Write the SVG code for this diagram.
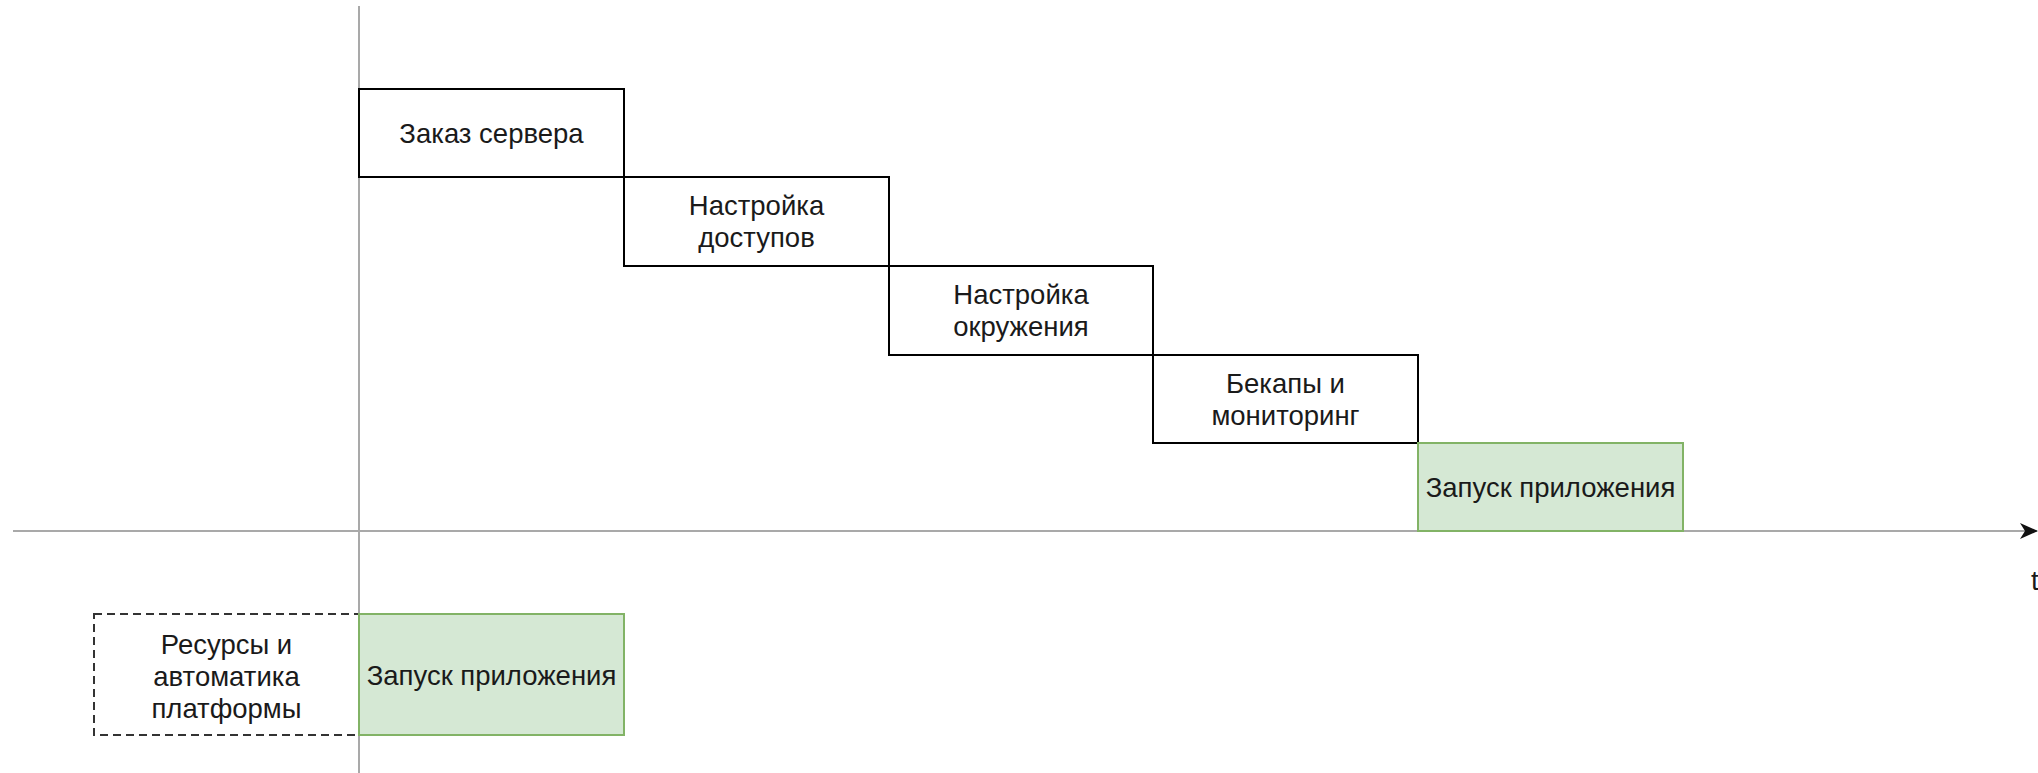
<svg xmlns="http://www.w3.org/2000/svg" width="2038" height="773" viewBox="0 0 2038 773">
  <style>
    .step { fill: #ffffff; stroke: #000000; stroke-width: 2; }
    .launch { fill: #d5e8d4; stroke: #82b366; stroke-width: 2; }
    .platform { fill: #ffffff; stroke: #333333; stroke-width: 2; stroke-dasharray: 8 5; }
    .axis { stroke: #a9a9a9; stroke-width: 2; fill: none; }
    .label { font-family: "Liberation Sans", Arial, sans-serif; font-size: 27.5px; fill: #1a1a1a; text-anchor: middle; }
  </style>
  <defs>
    <marker id="arrow" markerWidth="18" markerHeight="16" refX="17" refY="8" orient="auto" markerUnits="userSpaceOnUse">
      <path d="M0,0 L18,8 L0,16 L5,8 Z" fill="#111111"/>
    </marker>
  </defs>
  <rect width="2038" height="773" fill="#ffffff"/>

  <!-- time axes -->
  <g id="axes">
    <line class="axis" x1="359" y1="6" x2="359" y2="773"/>
    <line class="axis" x1="13" y1="531" x2="2037" y2="531" marker-end="url(#arrow)"/>
    <text class="label" x="2031" y="590" style="text-anchor:start">t</text>
  </g>

  <!-- manual server setup, step by step -->
  <g id="order-server">
    <rect class="step" x="359" y="89" width="265" height="88"/>
    <text class="label" x="491.5" y="143">Заказ сервера</text>
  </g>
  <g id="access-setup">
    <rect class="step" x="624" y="177" width="265" height="89"/>
    <text class="label" x="756.5" y="215">Настройка</text>
    <text class="label" x="756.5" y="247">доступов</text>
  </g>
  <g id="env-setup">
    <rect class="step" x="889" y="266" width="264" height="89"/>
    <text class="label" x="1021" y="304">Настройка</text>
    <text class="label" x="1021" y="336">окружения</text>
  </g>
  <g id="backups-monitoring">
    <rect class="step" x="1153" y="355" width="265" height="88"/>
    <text class="label" x="1285.5" y="393">Бекапы и</text>
    <text class="label" x="1285.5" y="425">мониторинг</text>
  </g>
  <g id="app-launch-manual">
    <rect class="launch" x="1418" y="443" width="265" height="88"/>
    <text class="label" x="1550.5" y="497">Запуск приложения</text>
  </g>

  <!-- platform path -->
  <g id="platform-resources">
    <rect class="platform" x="94" y="614" width="265" height="121"/>
    <text class="label" x="226.5" y="654">Ресурсы и</text>
    <text class="label" x="226.5" y="686">автоматика</text>
    <text class="label" x="226.5" y="718">платформы</text>
  </g>
  <g id="app-launch-platform">
    <rect class="launch" x="359" y="614" width="265" height="121"/>
    <text class="label" x="491.5" y="685">Запуск приложения</text>
  </g>
</svg>
